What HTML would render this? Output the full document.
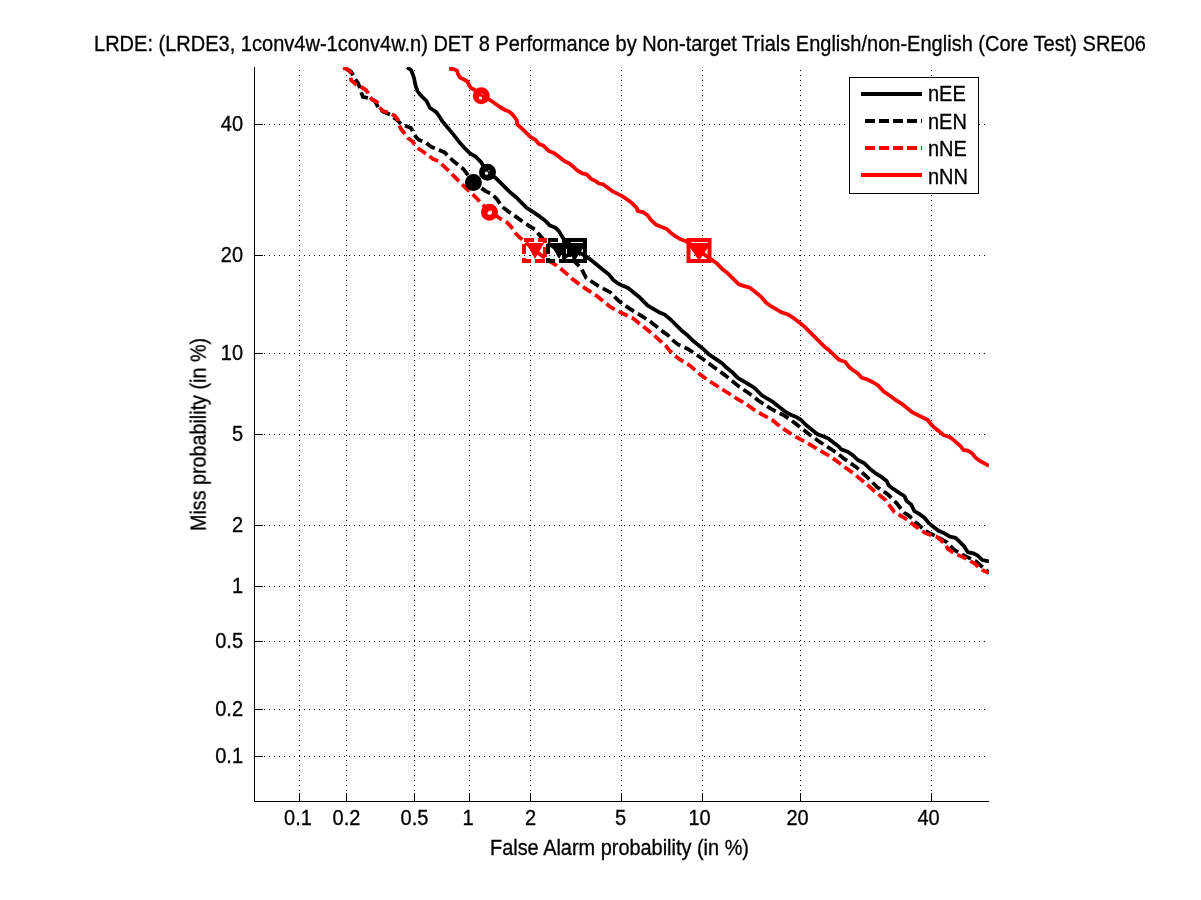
<!DOCTYPE html><html><head><meta charset="utf-8"><style>html,body{margin:0;padding:0;background:#fff;overflow:hidden}svg{display:block}text{font-family:"Liberation Sans",sans-serif;font-size:20px;fill:#000;stroke:#000;stroke-width:0.3px}</style></head><body>
<svg width="1201" height="900" viewBox="0 0 1201 900">
<defs><clipPath id="c"><rect x="254" y="67" width="735" height="735"/></clipPath></defs>
<rect width="1201" height="900" fill="#fff"/>
<path d="M299.5 801V67 M346.5 801V67 M414.5 801V67 M469.5 801V67 M530.5 801V67 M621.5 801V67 M702.5 801V67 M800.5 801V67 M931.5 801V67 M254 756.5H989 M254 709.5H989 M254 641.5H989 M254 586.5H989 M254 525.5H989 M254 434.5H989 M254 353.5H989 M254 255.5H989 M254 124.5H989" stroke="#000" stroke-width="1" stroke-dasharray="1 4" fill="none" shape-rendering="crispEdges"/>
<path d="M254.5 67V801.5H989 M299.5 793V801 M255 756.5H263 M346.5 793V801 M255 709.5H263 M414.5 793V801 M255 641.5H263 M469.5 793V801 M255 586.5H263 M530.5 793V801 M255 525.5H263 M621.5 793V801 M255 434.5H263 M702.5 793V801 M255 353.5H263 M800.5 793V801 M255 255.5H263 M931.5 793V801 M255 124.5H263" stroke="#000" stroke-width="1" fill="none" shape-rendering="crispEdges"/>
<g style="filter:grayscale(1)">
<text x="0" y="0" text-anchor="middle" transform="translate(298.0,825) scale(1,1.07)">0.1</text>
<text x="0" y="0" text-anchor="end" transform="translate(243,762.5) scale(1,1.07)">0.1</text>
<text x="0" y="0" text-anchor="middle" transform="translate(346.5,825) scale(1,1.07)">0.2</text>
<text x="0" y="0" text-anchor="end" transform="translate(243,715.5) scale(1,1.07)">0.2</text>
<text x="0" y="0" text-anchor="middle" transform="translate(414.5,825) scale(1,1.07)">0.5</text>
<text x="0" y="0" text-anchor="end" transform="translate(243,647.5) scale(1,1.07)">0.5</text>
<text x="0" y="0" text-anchor="middle" transform="translate(468.0,825) scale(1,1.07)">1</text>
<text x="0" y="0" text-anchor="end" transform="translate(243,592.5) scale(1,1.07)">1</text>
<text x="0" y="0" text-anchor="middle" transform="translate(530.5,825) scale(1,1.07)">2</text>
<text x="0" y="0" text-anchor="end" transform="translate(243,531.5) scale(1,1.07)">2</text>
<text x="0" y="0" text-anchor="middle" transform="translate(620.5,825) scale(1,1.07)">5</text>
<text x="0" y="0" text-anchor="end" transform="translate(243,440.5) scale(1,1.07)">5</text>
<text x="0" y="0" text-anchor="middle" transform="translate(699.5,825) scale(1,1.07)">10</text>
<text x="0" y="0" text-anchor="end" transform="translate(243,359.5) scale(1,1.07)">10</text>
<text x="0" y="0" text-anchor="middle" transform="translate(797.5,825) scale(1,1.07)">20</text>
<text x="0" y="0" text-anchor="end" transform="translate(243,261.5) scale(1,1.07)">20</text>
<text x="0" y="0" text-anchor="middle" transform="translate(928.5,825) scale(1,1.07)">40</text>
<text x="0" y="0" text-anchor="end" transform="translate(243,130.5) scale(1,1.07)">40</text>
<text x="0" y="0" textLength="1052" lengthAdjust="spacingAndGlyphs" transform="translate(94,51) scale(1,1.07)">LRDE: (LRDE3, 1conv4w-1conv4w.n) DET 8 Performance by Non-target Trials English/non-English (Core Test) SRE06</text>
<text x="0" y="0" textLength="259" lengthAdjust="spacingAndGlyphs" transform="translate(490,855) scale(1,1.07)">False Alarm probability (in %)</text>
<text x="0" y="0" textLength="193" lengthAdjust="spacingAndGlyphs" transform="translate(206,531) rotate(-90) scale(1,1.07)">Miss probability (in %)</text>
</g>
<g clip-path="url(#c)">
<path d="M407.0 67.5 L411.0 70.0 L412.5 73.5 L414.0 78.0 L415.0 83.0 L416.0 87.0 L417.5 91.0 L420.0 94.5 L423.0 97.5 L426.5 101.0 L428.0 104.0 L430.0 108.0 L434.0 110.5 L437.0 113.0 L440.0 117.5 L442.2 121.1 L447.8 127.8 L453.3 134.4 L458.9 141.7 L464.4 147.8 L470.0 153.3 L475.6 156.7 L481.1 162.2 L487.2 172.2 L495.6 177.8 L498.9 181.1 L504.4 186.7 L510.0 192.2 L516.7 197.8 L522.2 203.3 L526.7 207.8 L533.3 212.2 L540.0 216.7 L545.6 221.1 L550.0 225.6 L555.6 227.8 L558.9 231.1 L562.2 236.7 L564.4 240.0 L570.0 246.0 L574.5 250.5 L580.0 253.0 L586.7 256.7 L592.2 261.1 L597.8 265.6 L603.3 270.0 L608.9 274.4 L613.3 280.0 L617.8 283.3 L622.2 285.6 L627.8 287.8 L633.3 292.2 L638.9 296.7 L643.3 301.1 L647.8 305.6 L653.3 308.9 L658.9 312.2 L664.4 314.4 L671.1 320.0 L676.7 325.6 L682.2 331.1 L687.8 335.6 L693.3 341.1 L698.9 345.6 L704.4 350.0 L708.9 354.4 L715.6 358.9 L722.2 363.3 L726.7 367.8 L732.2 372.2 L737.8 377.8 L743.3 381.1 L748.9 384.4 L754.4 387.8 L758.0 391.5 L762.2 395.6 L767.8 398.9 L773.3 402.2 L778.9 406.7 L784.4 411.1 L790.0 414.4 L795.6 416.7 L801.1 420.0 L806.7 425.6 L812.2 430.0 L817.8 434.4 L824.4 436.7 L828.9 438.9 L834.4 443.3 L838.9 446.7 L841.1 449.4 L847.8 451.7 L853.3 455.6 L857.8 460.0 L864.4 463.3 L870.0 468.9 L875.6 473.3 L881.1 476.7 L886.7 481.1 L888.9 485.6 L893.3 488.9 L900.0 493.3 L904.4 496.0 L906.7 501.1 L911.1 504.4 L914.4 511.1 L920.0 514.4 L924.4 517.8 L928.9 523.3 L933.3 526.7 L938.9 531.1 L944.4 533.3 L950.0 536.7 L955.6 537.8 L960.0 542.2 L964.4 546.7 L967.8 552.2 L973.3 553.3 L977.8 555.6 L982.2 560.0 L989.0 561.5" stroke="#000" stroke-width="3.8" fill="none" stroke-linejoin="round"/>
<path d="M346.0 69.0 L351.0 71.5 L355.0 79.0 L358.0 83.0 L360.0 88.0 L361.0 92.0 L363.0 97.0 L368.0 98.0 L375.0 101.0 L377.0 105.0 L379.0 109.0 L384.0 112.0 L391.0 115.0 L397.0 120.0 L402.0 125.0 L406.0 126.0 L411.0 128.0 L413.0 132.0 L416.0 137.0 L419.0 140.0 L425.0 142.0 L431.1 146.7 L444.4 152.2 L453.3 161.1 L463.3 168.9 L473.3 182.2 L485.6 191.1 L492.2 194.4 L496.7 198.9 L502.2 206.7 L507.8 211.1 L514.4 215.6 L523.3 222.2 L526.7 224.4 L535.6 230.0 L538.9 234.4 L545.0 241.0 L558.5 250.5 L575.0 262.0 L581.1 268.0 L586.2 278.0 L597.8 285.6 L610.0 292.2 L618.9 301.1 L630.0 308.9 L641.1 315.6 L651.1 322.2 L662.2 331.1 L668.0 335.3 L671.1 338.9 L677.8 344.4 L687.8 348.9 L701.1 357.8 L713.3 366.7 L725.6 375.6 L737.8 385.6 L748.9 393.3 L758.3 400.5 L771.1 408.9 L784.4 415.6 L796.7 424.4 L807.8 433.3 L820.0 442.2 L833.3 450.5 L844.4 458.9 L855.6 466.7 L866.7 476.7 L876.7 486.7 L887.8 494.4 L896.7 503.3 L904.0 512.5 L908.9 515.6 L916.7 523.3 L925.6 531.1 L936.7 536.7 L946.7 542.2 L954.4 550.0 L964.4 555.6 L975.6 561.1 L983.3 567.8 L989.0 572.5" stroke="#000" stroke-width="3.8" fill="none" stroke-linejoin="round" stroke-dasharray="10 4.5"/>
<path d="M343.0 68.0 L348.0 69.5 L351.0 73.0 L351.0 80.0 L356.0 84.5 L361.0 87.0 L366.0 90.0 L368.0 93.0 L369.0 96.0 L372.0 99.5 L377.0 102.0 L379.0 107.0 L383.0 111.0 L390.0 113.0 L395.0 116.0 L398.0 120.0 L399.0 125.0 L401.0 129.0 L405.0 134.0 L408.0 138.0 L412.0 141.0 L416.0 146.0 L419.0 149.0 L425.0 153.0 L429.0 156.0 L433.0 159.0 L438.5 161.1 L448.9 171.1 L458.9 181.1 L466.7 188.9 L476.0 197.5 L483.0 205.0 L489.5 212.3 L495.0 215.0 L500.0 218.5 L506.7 222.2 L511.1 226.7 L515.6 233.3 L518.9 236.7 L534.5 250.0 L544.4 257.8 L556.7 265.6 L562.2 270.0 L568.9 275.6 L572.2 278.9 L584.4 287.8 L597.8 296.7 L610.0 306.7 L620.0 312.2 L632.2 317.8 L642.2 325.6 L654.4 335.6 L665.6 345.6 L670.0 351.1 L678.9 358.9 L690.0 365.6 L700.0 374.4 L711.1 382.2 L723.3 390.0 L735.6 397.8 L746.7 404.4 L755.5 410.8 L772.2 420.0 L783.3 428.9 L795.6 436.7 L807.8 443.3 L818.9 450.0 L828.9 455.6 L838.9 462.7 L853.3 473.3 L865.6 483.3 L875.6 492.2 L885.6 500.0 L894.4 512.2 L904.4 517.8 L914.4 525.6 L925.6 533.3 L936.7 536.7 L945.6 544.4 L947.8 548.9 L954.4 553.3 L964.4 557.8 L974.4 563.3 L982.2 570.0 L989.0 573.0" stroke="#f00" stroke-width="3.8" fill="none" stroke-linejoin="round" stroke-dasharray="10 4.5"/>
<path d="M449.0 68.5 L453.0 69.0 L457.0 70.5 L458.0 74.0 L460.0 77.5 L464.0 79.5 L467.5 81.5 L469.0 85.0 L471.0 88.0 L475.0 90.0 L481.3 95.8 L490.0 100.0 L495.0 103.5 L500.0 107.0 L505.0 110.0 L509.0 111.5 L512.0 114.0 L514.5 117.0 L516.7 120.0 L517.2 124.4 L521.1 127.8 L525.6 132.2 L530.0 136.7 L535.6 140.0 L538.9 143.9 L543.3 145.6 L548.9 151.1 L554.4 153.3 L558.9 156.7 L564.4 161.1 L568.9 163.3 L573.3 166.7 L576.7 170.0 L582.2 173.3 L586.7 174.4 L591.1 178.9 L595.6 181.1 L599.0 183.5 L603.3 184.4 L607.8 187.8 L612.2 191.1 L617.8 193.9 L622.2 196.1 L627.8 200.0 L632.2 203.3 L636.7 207.8 L637.8 211.1 L643.3 212.2 L647.8 215.6 L651.1 220.0 L655.6 224.4 L661.1 226.7 L666.7 228.9 L670.0 232.2 L674.4 235.6 L680.0 238.9 L685.6 241.1 L692.0 245.0 L699.0 250.5 L705.0 255.0 L711.1 259.4 L716.7 263.3 L722.2 268.9 L727.8 273.3 L733.3 278.9 L738.9 284.4 L744.4 286.1 L750.0 287.8 L755.6 292.2 L761.1 296.7 L765.6 302.2 L770.0 305.6 L775.6 308.9 L781.1 312.2 L787.8 314.4 L793.3 317.8 L798.9 322.2 L800.6 323.3 L805.0 327.2 L810.6 332.8 L815.0 337.2 L820.6 342.8 L825.0 347.2 L829.4 350.6 L833.9 355.0 L839.4 360.0 L845.0 361.7 L849.4 367.2 L852.8 370.0 L857.2 372.8 L861.7 377.8 L867.2 379.4 L872.8 382.2 L878.3 385.6 L883.9 391.7 L889.4 395.3 L895.6 400.0 L901.1 403.3 L906.7 407.8 L912.2 412.2 L917.8 415.0 L923.3 417.8 L927.8 420.0 L931.1 424.4 L934.4 427.8 L938.9 431.1 L943.3 435.0 L948.9 436.7 L952.2 438.9 L956.7 442.8 L961.1 446.7 L963.3 450.0 L967.8 450.6 L972.2 453.3 L975.6 457.8 L980.0 461.1 L984.4 463.3 L989.0 465.8" stroke="#f00" stroke-width="3.8" fill="none" stroke-linejoin="round"/>
<circle cx="481.3" cy="95.8" r="5.5" stroke="#f00" stroke-width="6" fill="none"/>
<circle cx="487.5" cy="172.2" r="5.5" stroke="#000" stroke-width="6" fill="none"/>
<circle cx="473.4" cy="182.5" r="8.5" fill="#000"/>
<circle cx="489.5" cy="212.3" r="5.5" stroke="#f00" stroke-width="6" fill="none"/>
<rect x="524.0" y="240.0" width="21" height="21" stroke="#f00" stroke-width="4" fill="none" stroke-dasharray="10 4"/>
<path d="M526.0 243.0 L544.0 243.0 L535.0 259.0 Z" fill="#f00"/>
<rect x="548.0" y="240.0" width="21" height="21" stroke="#000" stroke-width="4" fill="none" stroke-dasharray="10 4"/>
<path d="M550.0 243.0 L568.0 243.0 L559.0 259.0 Z" fill="#000"/>
<rect x="564.0" y="240.0" width="21" height="21" stroke="#000" stroke-width="4" fill="none"/>
<path d="M562.5 243.0 L586.5 243.0 L574.5 261.0 Z" fill="#000"/>
<rect x="688.5" y="240.0" width="21" height="21" stroke="#f00" stroke-width="4" fill="none"/>
<path d="M687 243.0 L711 243.0 L699 261.0 Z" fill="#f00"/>
<circle cx="486.5" cy="173.2" r="1.6" fill="#fff"/>
<circle cx="489.4" cy="212.7" r="1.6" fill="#fff"/>
<circle cx="480.5" cy="98" r="1.6" fill="#fff"/>
</g>
<rect x="849.5" y="77.5" width="129" height="116" fill="#fff" stroke="#000" stroke-width="1" shape-rendering="crispEdges"/>
<g style="filter:grayscale(1)">
<text x="0" y="0" transform="translate(928,101) scale(1,1.07)">nEE</text>
<text x="0" y="0" transform="translate(928,129) scale(1,1.07)">nEN</text>
<text x="0" y="0" transform="translate(928,156) scale(1,1.07)">nNE</text>
<text x="0" y="0" transform="translate(928,184) scale(1,1.07)">nNN</text>
</g>
<path d="M861 94H922" stroke="#000" stroke-width="4" shape-rendering="crispEdges"/>
<path d="M865 121H922" stroke="#000" stroke-width="4" stroke-dasharray="10 4" shape-rendering="crispEdges"/>
<path d="M865 148H922" stroke="#f00" stroke-width="4" stroke-dasharray="10 4" shape-rendering="crispEdges"/>
<path d="M861 175H922" stroke="#f00" stroke-width="4" shape-rendering="crispEdges"/>
</svg></body></html>
